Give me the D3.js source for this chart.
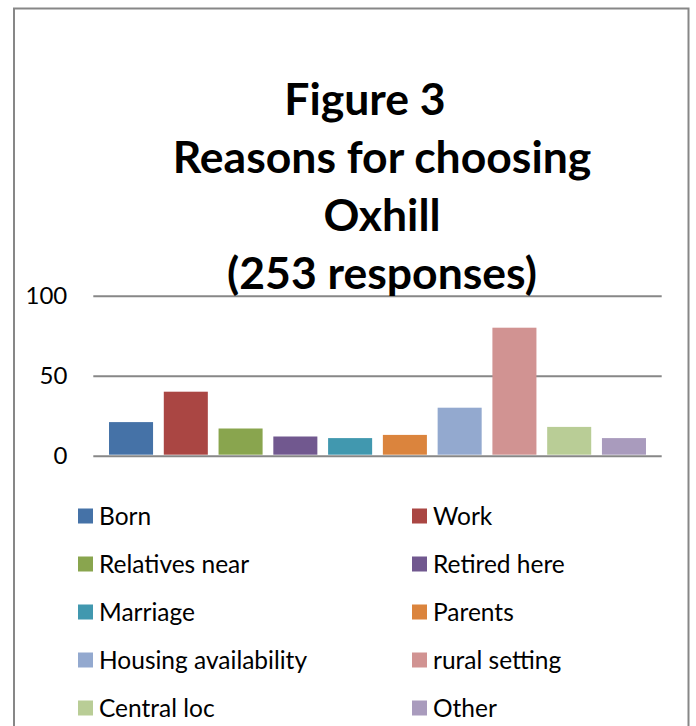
<!DOCTYPE html>
<html>
<head>
<meta charset="utf-8">
<script src="https://cdn.jsdelivr.net/npm/d3@7"></script>
<style>
  html, body { margin: 0; padding: 0; background: #fff; }
  text { font-family: Lato, "Open Sans", sans-serif; fill: #000; }
</style>
</head>
<body>
<script>
// chart data
const categories = ['Born', 'Work', 'Relatives near', 'Retired here', 'Marriage',
                    'Parents', 'Housing availability', 'rural setting', 'Central loc', 'Other'];
const responses = [21, 40, 17, 12, 11, 13, 30, 80, 18, 11];
const barColors = ['#4572A7', '#AA4643', '#89A54E', '#71588F', '#4198AF',
                   '#DB843D', '#93A9CF', '#D19392', '#B9CD96', '#A99BBD'];
const yTicks = [0, 50, 100];
const titleLines = ['Figure 3', 'Reasons for choosing', 'Oxhill', '(253 responses)'];

const width = 696, height = 726;
let margin = {top: 295.7, right: 34.3, bottom: 270.3, left: 93.3};

const svg = d3.select('body').append('svg')
  .attr('width', width)
  .attr('height', height);

// frame round the chart (bottom edge runs off the page)
svg.append('rect')
  .attr('x', 14).attr('y', 8.5)
  .attr('width', 674.5).attr('height', 800)
  .attr('fill', '#fff')
  .attr('stroke', '#878787')
  .attr('stroke-width', 2);

let sx = d3.scaleBand()
  .domain(categories)
  .range([margin.left, width - margin.right])
  .paddingInner(0.196)
  .paddingOuter(0.287);

let sy = d3.scaleLinear()
  .domain([0, 100])
  .range([height - margin.bottom, margin.top]);

// gridlines + tick labels
let yAxis = d3.axisLeft(sy)
  .tickValues(yTicks)
  .tickSize(-(width - margin.left - margin.right))
  .tickPadding(26);

let gy = svg.append('g')
  .attr('transform', `translate(${margin.left},0)`)
  .call(yAxis);
gy.select('.domain').remove();
gy.selectAll('.tick line')
  .attr('stroke', '#878787')
  .attr('stroke-width', 2);
gy.selectAll('.tick text')
  .attr('font-size', 24)
  .attr('fill', '#000')
  .style('font-family', 'Lato, sans-serif');

// bars
svg.append('g')
  .selectAll('rect')
  .data(categories)
  .join('rect')
    .attr('x', d => sx(d))
    .attr('y', (d, i) => sy(responses[i]))
    .attr('width', sx.bandwidth())
    .attr('height', (d, i) => sy(0) - sy(responses[i]) - 1)
    .attr('fill', (d, i) => barColors[i]);

// title
svg.append('g')
  .selectAll('text')
  .data(titleLines)
  .join('text')
    .attr('x', (d, i) => i == 0 ? 365 : 382)
    .attr('y', (d, i) => 115 + i * 58)
    .attr('text-anchor', 'middle')
    .attr('font-size', 44.5)
    .attr('font-weight', 'bold')
    .text(d => d);

// legend, two columns
let legend = svg.append('g')
  .selectAll('g')
  .data(categories)
  .join('g')
    .attr('transform', (d, i) => `translate(${i % 2 ? 412 : 78},${516 + Math.floor(i / 2) * 48})`);

legend.append('rect')
  .attr('x', 0).attr('y', -7.5)
  .attr('width', 15).attr('height', 15)
  .attr('fill', (d, i) => barColors[i]);

legend.append('text')
  .attr('x', 21)
  .attr('dy', '0.36em')
  .attr('font-size', 24.5)
  .text(d => d);
</script>
</body>
</html>
